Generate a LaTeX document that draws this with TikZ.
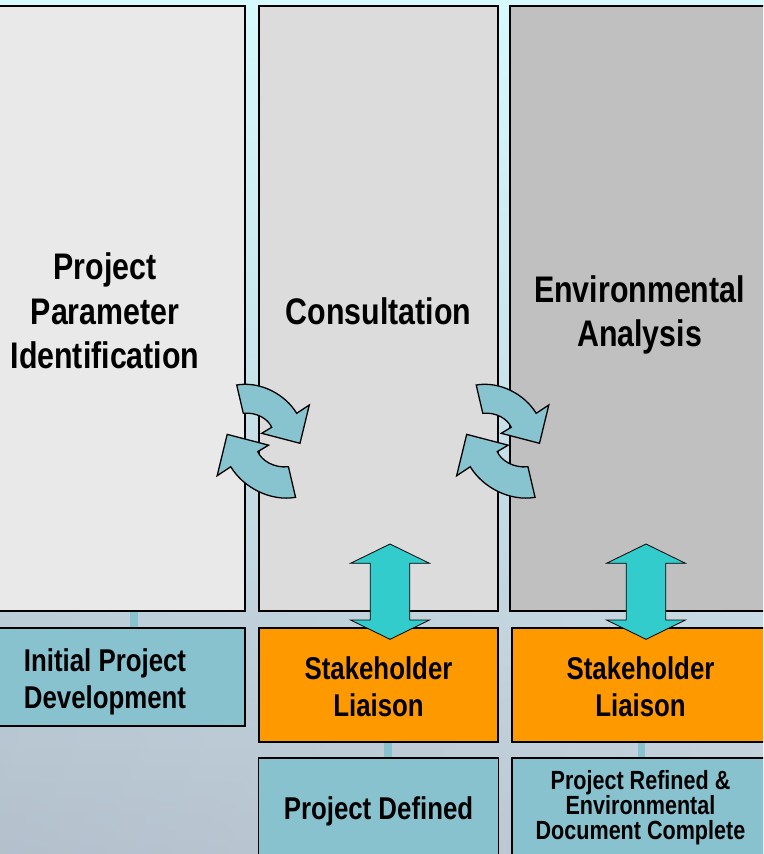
\documentclass[tikz,border=0pt]{standalone}
\usepackage{fontspec}
\setmainfont[FakeStretch=0.82]{Liberation Sans}
\definecolor{colA}{HTML}{E9E9E9}
\definecolor{colB}{HTML}{DCDCDC}
\definecolor{colC}{HTML}{C0C0C0}
\definecolor{tealbox}{HTML}{88C2CE}
\definecolor{orangebox}{HTML}{FF9900}
\definecolor{cyanarrow}{HTML}{33CCCC}
\definecolor{cycfill}{HTML}{88C4D0}
\definecolor{bgtop}{HTML}{D6FAFD}
\definecolor{bgmid}{HTML}{D0E4F6}
\definecolor{bgbot}{HTML}{B8C6D4}
\pgfdeclarelayer{bg}
\pgfsetlayers{bg,main}
\newcommand{\cycpath}{(-28.3,-54) .. controls (-5,-58) and (20,-45) .. (31.7,-25.7) -- (44.3,-34) -- (35,4.3) -- (-3.3,-5.7) -- (6.7,-11.7) .. controls (3,-20) and (-8,-27) .. (-21.7,-25.7) -- cycle}
\begin{document}
\begin{tikzpicture}[x=1pt,y=-1pt,
  boxbase/.style={draw=black, line width=1.5pt, inner sep=0pt},
  coltxt/.style={align=center, inner sep=0pt, font=\bfseries\fontsize{37}{44.5}\selectfont},
  lowtxt/.style={align=center, inner sep=0pt, font=\bfseries\fontsize{31.5}{37}\selectfont},
  smalltxt/.style={align=center, inner sep=0pt, font=\bfseries\fontsize{26.3}{25}\selectfont},
  conn/.style={draw=tealbox, line width=7.5pt},
  cycarrow/.style={draw=black, line width=1.3pt, fill=cycfill, line join=miter},
  dblarrow/.style={draw=black, line width=0.8pt, fill=cyanarrow},
  cyc/.pic={
    \path[cycarrow] \cycpath;
    \begin{scope}[rotate=180, scale=1.08]
      \path[cycarrow] \cycpath;
    \end{scope}
  },
  updown/.pic={
    \path[dblarrow] (0,0) -- (39.5,19.3) -- (19.7,19.3) -- (19.7,76) -- (39.5,76)
      -- (0,95.3) -- (-39.5,76) -- (-19.7,76) -- (-19.7,19.3) -- (-39.5,19.3) -- cycle;
  }
]
\useasboundingbox (0,0) rectangle (763,854);
\clip (0,0) rectangle (763,854);

% columns
\node[boxbase, fill=colA, minimum width=280, minimum height=605,
  label={[coltxt, yshift=-2.5]center:{Project\\Parameter\\Identification}}] (c1) at (105,308.5) {};
\node[boxbase, fill=colB, minimum width=239, minimum height=605,
  label={[coltxt, yshift=-3]center:{Consultation}}] (c2) at (378.5,308.5) {};
\node[boxbase, fill=colC, minimum width=259, minimum height=605,
  label={[coltxt, yshift=-6.5]center:{Environmental\\Analysis}}] (c3) at (639.5,308.5) {};

% lower boxes
\node[boxbase, fill=tealbox, minimum width=280, minimum height=98,
  label={[lowtxt, yshift=-4.5]center:{Initial Project\\Development}}] (ipd) at (105,677) {};
\node[boxbase, fill=orangebox, minimum width=239, minimum height=114,
  label={[lowtxt, yshift=-1.5]center:{Stakeholder\\Liaison}}] (sl1) at (378.5,685) {};
\node[boxbase, fill=orangebox, minimum width=257, minimum height=114,
  label={[lowtxt, yshift=-1.5]center:{Stakeholder\\Liaison}}] (sl2) at (640.5,685) {};
\node[boxbase, fill=tealbox, minimum width=240, minimum height=100,
  label={[lowtxt, yshift=-3]center:{Project Defined}}] (pd) at (378.5,808) {};
\node[boxbase, fill=tealbox, minimum width=257, minimum height=100,
  label={[smalltxt]center:{Project Refined \&\\Environmental\\Document Complete}}] (prd) at (640.5,808) {};

\begin{pgfonlayer}{bg}
  \shade[top color=bgtop, middle color=bgmid, bottom color=bgbot] (0,0) rectangle (763,854);
  \shade[left color=black!40, right color=white, opacity=0.12] (0,600) rectangle (763,854);
  \draw[conn] ([xshift=29]c1.south) -- ([xshift=29]c1.south |- ipd.north);
  \draw[conn] ([xshift=9.5]sl1.south) -- ([xshift=9.5]sl1.south |- pd.north);
  \draw[conn] ([xshift=1]sl2.south) -- ([xshift=1]sl2.south |- prd.north);
\end{pgfonlayer}

% cycle arrows
\pic at (265,439) {cyc};
\pic at (504.5,439) {cyc};

% double arrows
\pic at (390,544) {updown};
\pic at (646,544) {updown};
\end{tikzpicture}
\end{document}
